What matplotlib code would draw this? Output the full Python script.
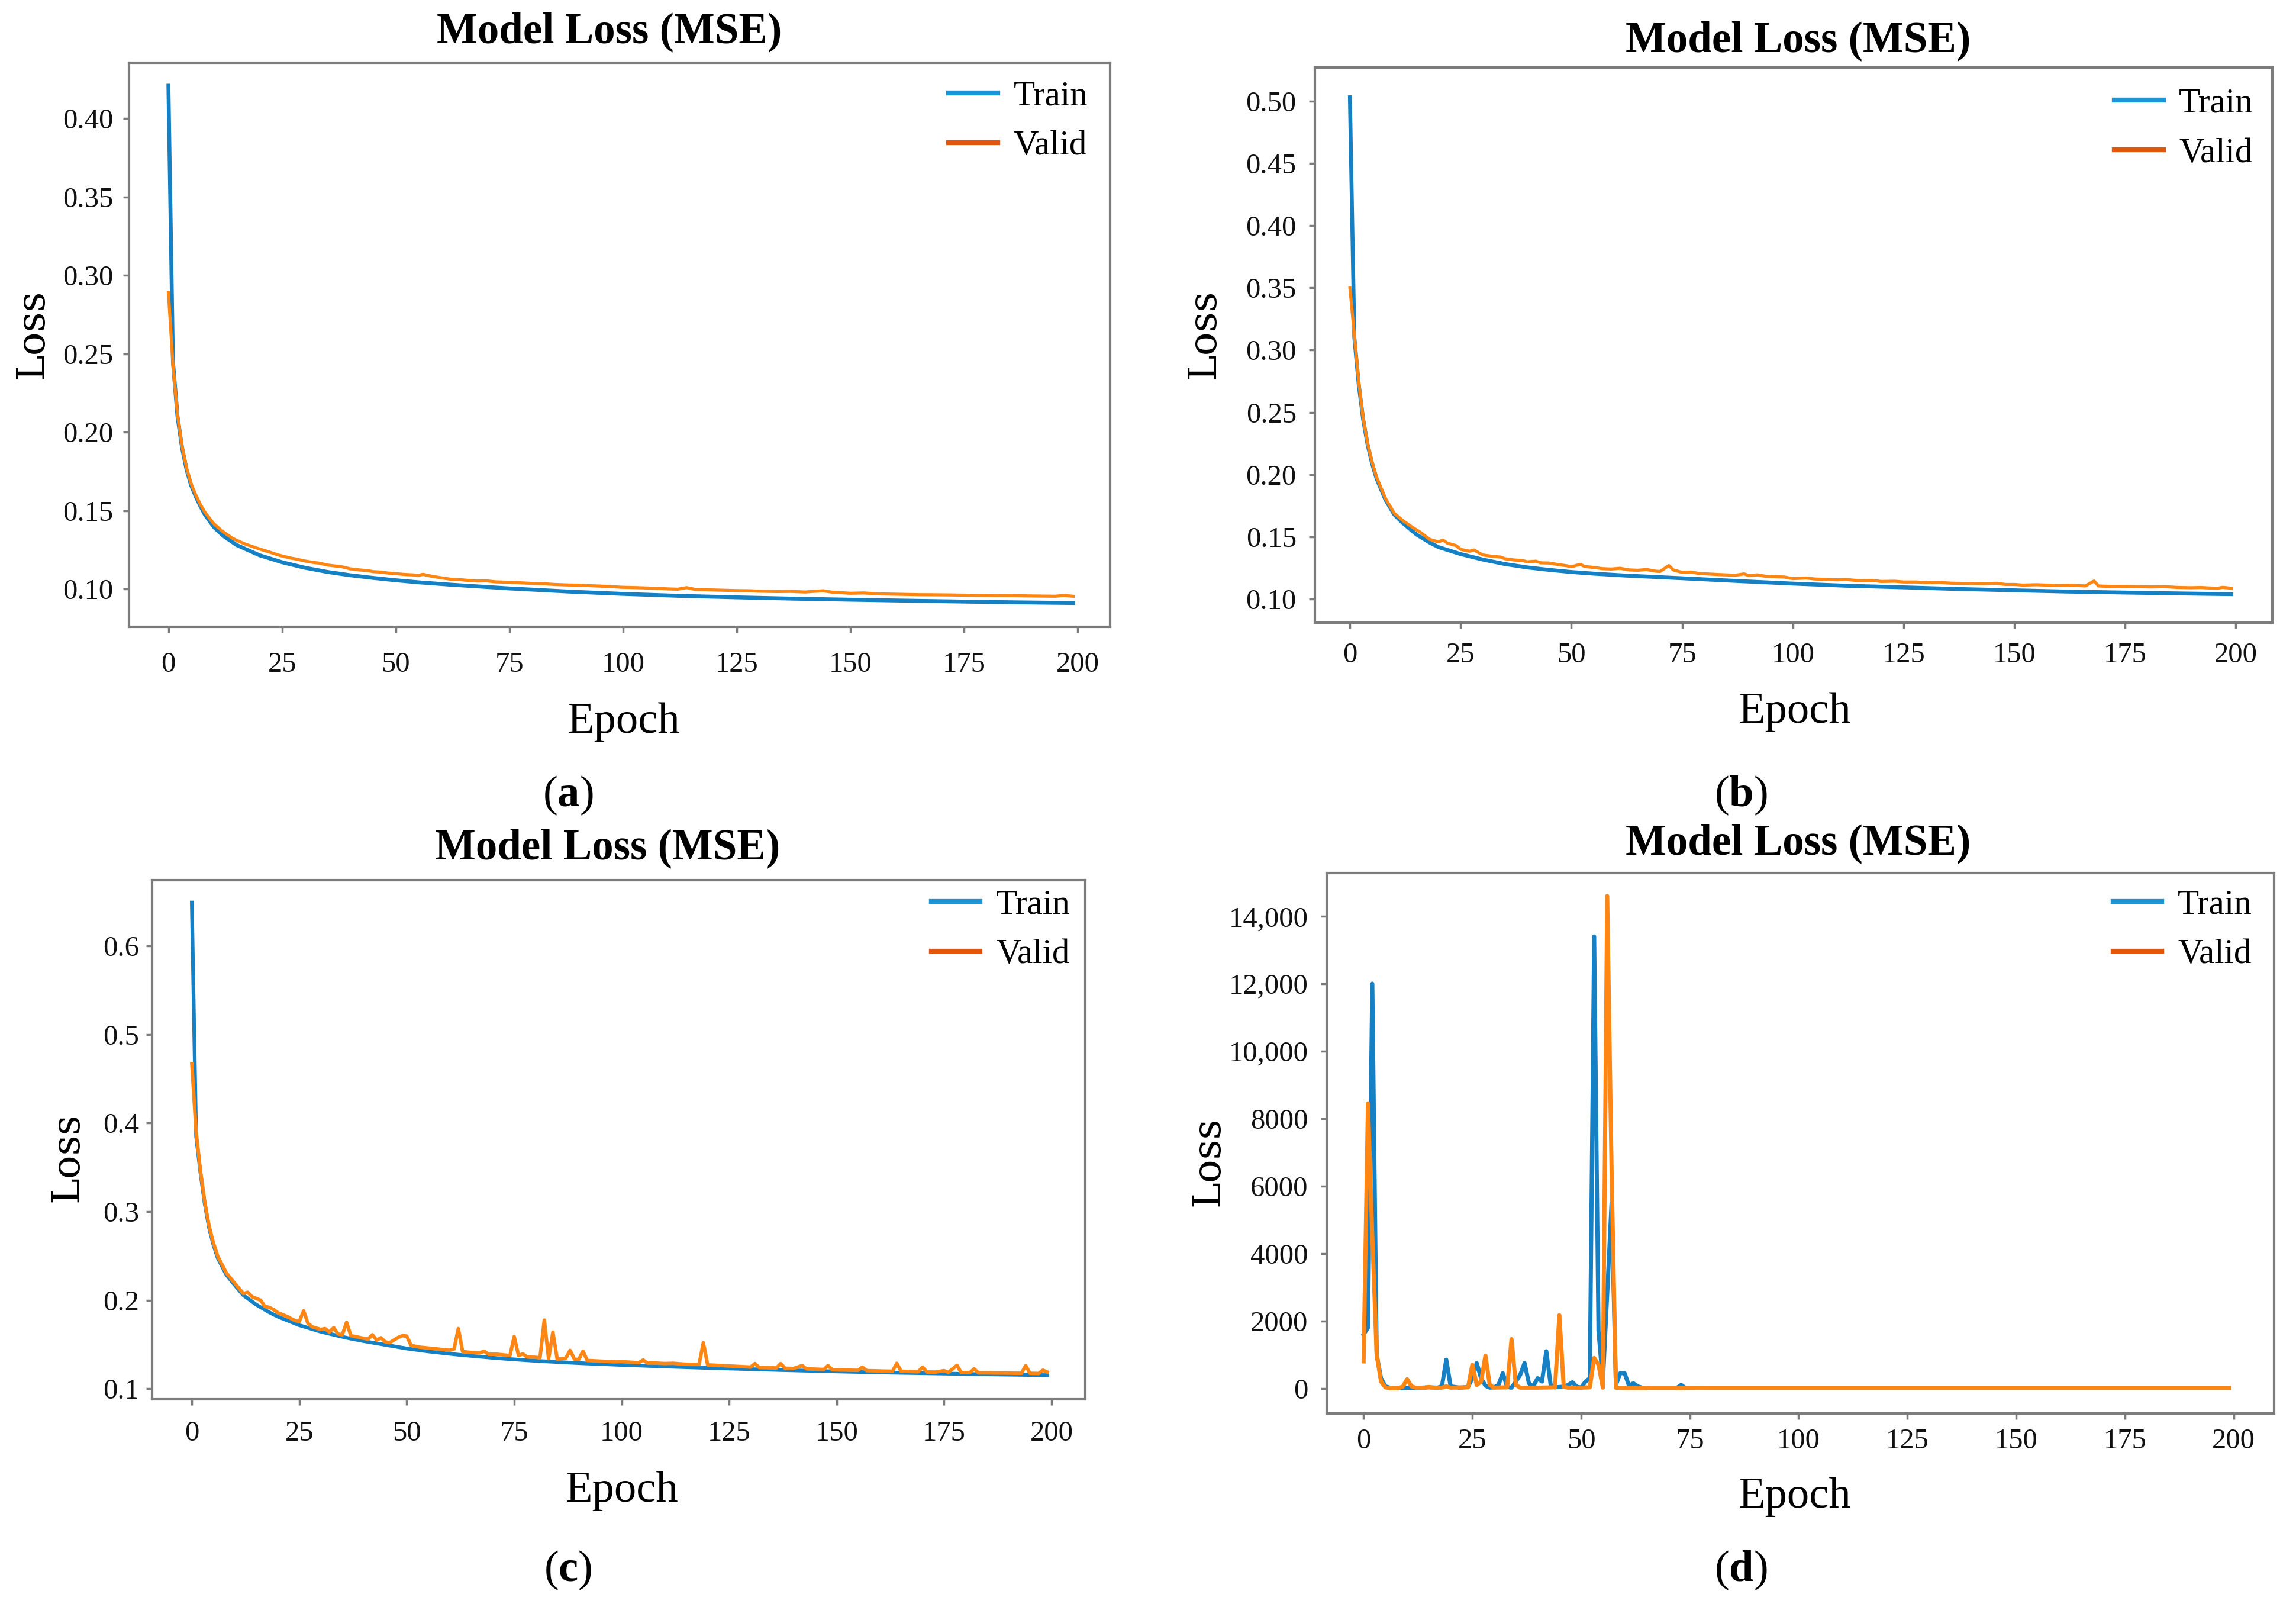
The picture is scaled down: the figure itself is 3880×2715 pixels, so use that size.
import matplotlib
matplotlib.use("Agg")
import matplotlib.pyplot as plt
from matplotlib.lines import Line2D
from matplotlib.ticker import FuncFormatter

plt.rcParams["font.family"] = ["Liberation Serif", "DejaVu Serif"]
plt.rcParams["mathtext.fontset"] = "custom"
plt.rcParams["mathtext.rm"] = "Liberation Serif"
plt.rcParams["mathtext.bf"] = "Liberation Serif:bold"

# ---- (a) ----
a_ep_train = [0, 1, 2, 3, 4, 5, 6, 7, 8, 10, 12, 15, 20, 25, 30, 35, 40, 45, 50, 55, 62, 75,
              88, 100, 112, 125, 137, 150, 162, 175, 187, 199]
a_train = [0.421, 0.245, 0.210, 0.190, 0.176, 0.166, 0.159, 0.153, 0.1475, 0.1395, 0.1340,
           0.1280, 0.1215, 0.1170, 0.1135, 0.1108, 0.1087, 0.1070, 0.1055, 0.1042, 0.1027,
           0.1003, 0.0983, 0.0968, 0.0956, 0.0946, 0.0938, 0.0931, 0.0925, 0.0919, 0.0914,
           0.0910]
a_ep_valid = [0, 1, 2, 3, 4, 5, 6, 7, 8, 10, 12, 14, 15, 17, 18, 20, 22, 24, 25, 27, 28, 30, 32,
              33, 35, 37, 38, 40, 42, 44, 45, 47, 48, 50, 52, 54, 55, 56, 58, 60, 62, 64, 66, 68,
              70, 72, 75, 78, 80, 83, 85, 88, 90, 93, 95, 100, 103, 106, 110, 112, 114, 116, 120,
              125, 128, 130, 134, 137, 140, 144, 146, 150, 153, 156, 160, 165, 170, 175, 180,
              185, 190, 195, 197, 199]
a_valid = [0.289, 0.243, 0.211, 0.191, 0.177, 0.167, 0.160, 0.154, 0.149, 0.1415, 0.1365,
           0.1325, 0.131, 0.1285, 0.1275, 0.1255, 0.1237, 0.1218, 0.1210, 0.1196, 0.1191,
           0.1178, 0.1168, 0.1165, 0.1152, 0.1145, 0.1142, 0.1128, 0.1121, 0.1116, 0.1110,
           0.1107, 0.1102, 0.1097, 0.1092, 0.1089, 0.1086, 0.1093, 0.108, 0.1071, 0.1062,
           0.1059, 0.1054, 0.105, 0.1051, 0.1045, 0.1042, 0.1038, 0.1035, 0.1032, 0.1028,
           0.1025, 0.1024, 0.102, 0.1018, 0.101, 0.1008, 0.1005, 0.1, 0.0998, 0.1008, 0.0996,
           0.0993, 0.0989, 0.0988, 0.0985, 0.0983, 0.0984, 0.098, 0.0988, 0.0979, 0.0972,
           0.0974, 0.0968, 0.0966, 0.0963, 0.0962, 0.096, 0.0958, 0.0957, 0.0955, 0.0953,
           0.0958, 0.0953]

# ---- (b) ----
b_ep_train = [0, 1, 2, 3, 4, 5, 6, 8, 10, 12, 15, 18, 20, 25, 30, 35, 40, 45, 50, 55, 62, 75,
              88, 100, 112, 125, 137, 150, 162, 175, 187, 199]
b_train = [0.503, 0.31, 0.272, 0.244, 0.224, 0.209, 0.197, 0.180, 0.168, 0.161, 0.152, 0.1455,
           0.1418, 0.1362, 0.1318, 0.1282, 0.1255, 0.1235, 0.1218, 0.1205, 0.1190, 0.1168,
           0.1145, 0.1125, 0.1108, 0.1095, 0.1082, 0.1071, 0.1061, 0.1053, 0.1046, 0.1040]
b_ep_valid = [0, 1, 2, 3, 4, 5, 6, 8, 10, 12, 14, 16, 18, 19, 20, 21, 22, 24, 25, 27, 28, 30,
              32, 34, 35, 37, 39, 40, 42, 43, 45, 47, 49, 50, 52, 53, 55, 57, 59, 61, 63, 65,
              67, 69, 70, 72, 73, 75, 77, 79, 81, 83, 85, 87, 89, 90, 92, 94, 96, 98, 100, 103,
              105, 108, 110, 112, 115, 118, 120, 123, 125, 128, 130, 133, 136, 140, 143, 146,
              148, 150, 152, 155, 158, 160, 163, 166, 168, 169, 172, 175, 178, 181, 184, 187,
              190, 192, 194, 196, 197, 199]
b_valid = [0.350, 0.312, 0.274, 0.245, 0.225, 0.210, 0.198, 0.181, 0.169, 0.163, 0.158, 0.1535,
           0.148, 0.147, 0.146, 0.1475, 0.145, 0.143, 0.140, 0.1385, 0.1395, 0.1355, 0.1345,
           0.1338, 0.1325, 0.1315, 0.131, 0.130, 0.1305, 0.1292, 0.129, 0.1278, 0.1268, 0.126,
           0.128, 0.1262, 0.1255, 0.1245, 0.1242, 0.1248, 0.1235, 0.1232, 0.1238, 0.1225,
           0.1222, 0.127, 0.1235, 0.1215, 0.1218, 0.1205, 0.1202, 0.1198, 0.1195, 0.1192,
           0.1203, 0.119, 0.1195, 0.1183, 0.118, 0.1178, 0.1165, 0.117, 0.1162, 0.1158,
           0.1155, 0.1158, 0.1148, 0.115, 0.1142, 0.1144, 0.1138, 0.1138, 0.1133, 0.1134,
           0.1128, 0.1126, 0.1124, 0.1128, 0.1118, 0.1118, 0.1113, 0.1116, 0.1112, 0.111,
           0.1112, 0.1106, 0.1146, 0.1106, 0.1102, 0.1102, 0.11, 0.1098, 0.11, 0.1094, 0.1092,
           0.1094, 0.109, 0.1088, 0.1095, 0.1088]

# ---- (c) ----
c_ep_train = [0, 1, 2, 3, 4, 5, 6, 8, 10, 12, 15, 18, 20, 25, 30, 36, 40, 50, 55, 62, 70, 75,
              80, 90, 100, 110, 120, 125, 137, 150, 162, 175, 187, 199]
c_train = [0.649, 0.385, 0.344, 0.309, 0.282, 0.263, 0.248, 0.229, 0.217, 0.2056, 0.195,
           0.1864, 0.1815, 0.1718, 0.1645, 0.1576, 0.1538, 0.1455, 0.1422, 0.1385, 0.1350,
           0.1332, 0.1316, 0.1290, 0.1270, 0.1252, 0.1236, 0.1229, 0.1212, 0.1196, 0.1183,
           0.1172, 0.1162, 0.1154]
c_ep_valid = [0, 1, 2, 3, 4, 5, 6, 8, 10, 12, 13, 14, 16, 17, 18, 19, 20, 22, 24, 25, 26, 27,
              28, 30, 31, 32, 33, 34, 35, 36, 37, 38, 40, 41, 42, 43, 44, 45, 46, 47, 48, 49,
              50, 51, 52, 53, 55, 57, 59, 60, 61, 62, 63, 65, 67, 68, 69, 71, 73, 74, 75, 76,
              77, 78, 80, 81, 82, 83, 84, 85, 86, 87, 88, 89, 90, 91, 92, 94, 96, 98, 100, 102,
              104, 105, 106, 108, 110, 112, 114, 116, 118, 119, 120, 122, 124, 126, 128, 130,
              131, 132, 134, 136, 137, 138, 140, 142, 143, 145, 147, 148, 149, 151, 153, 155,
              156, 157, 159, 161, 163, 164, 165, 167, 169, 170, 171, 173, 175, 176, 178, 179,
              181, 182, 183, 185, 187, 189, 191, 193, 194, 195, 197, 198, 199]
c_valid = [0.467, 0.39, 0.346, 0.311, 0.284, 0.265, 0.250, 0.231, 0.219, 0.2075, 0.209, 0.204,
           0.200, 0.193, 0.192, 0.1895, 0.186, 0.182, 0.177, 0.176, 0.188, 0.174, 0.170, 0.167,
           0.168, 0.164, 0.169, 0.162, 0.161, 0.175, 0.160, 0.159, 0.157, 0.156, 0.161, 0.155,
           0.1576, 0.153, 0.152, 0.155, 0.158, 0.160, 0.1595, 0.149, 0.148, 0.147, 0.146,
           0.145, 0.144, 0.1435, 0.145, 0.168, 0.142, 0.141, 0.1405, 0.1425, 0.139, 0.139,
           0.138, 0.1375, 0.159, 0.1375, 0.1395, 0.136, 0.1355, 0.135, 0.1776, 0.134, 0.164,
           0.1335, 0.134, 0.1345, 0.1434, 0.1335, 0.133, 0.1425, 0.132, 0.1315, 0.131, 0.1305,
           0.1307, 0.130, 0.1295, 0.1325, 0.129, 0.129, 0.1285, 0.1288, 0.128, 0.1275, 0.1275,
           0.152, 0.127, 0.1265, 0.126, 0.1255, 0.125, 0.1245, 0.1285, 0.124, 0.1238, 0.1235,
           0.1285, 0.1232, 0.123, 0.1262, 0.1225, 0.1222, 0.1218, 0.1262, 0.1215, 0.1212,
           0.121, 0.1208, 0.1245, 0.1205, 0.1203, 0.12, 0.1198, 0.1288, 0.1198, 0.1195, 0.1192,
           0.1245, 0.119, 0.1188, 0.1205, 0.1185, 0.1265, 0.1183, 0.1182, 0.1225, 0.118, 0.118,
           0.1178, 0.1178, 0.1176, 0.1175, 0.1262, 0.1175, 0.1173, 0.121, 0.119]

# ---- (d) ----
d_ep_train = [0, 1, 2, 3, 4, 5, 6, 8, 9, 10, 12, 15, 17, 18, 19, 20, 22, 24, 25, 26, 27, 28,
              29, 30, 31, 32, 33, 34, 35, 36, 37, 38, 39, 40, 41, 42, 43, 44, 46, 47, 48, 49,
              50, 51, 52, 53, 54, 55, 56, 57, 58, 59, 60, 61, 62, 63, 64, 66, 72, 73, 74, 80,
              199]
d_train = [1600, 1800, 12000, 1000, 300, 60, 20, 10, 5, 20, 10, 30, 20, 60, 850, 60, 20, 40,
           300, 750, 300, 80, 20, 30, 100, 450, 40, 20, 200, 400, 750, 150, 60, 300, 200, 1100,
           100, 30, 50, 100, 180, 50, 20, 200, 300, 13400, 1700, 200, 2800, 5500, 100, 450,
           450, 80, 150, 60, 20, 10, 10, 100, 10, 5, 5]
d_ep_valid = [0, 1, 2, 3, 4, 5, 6, 8, 9, 10, 11, 12, 14, 15, 16, 18, 19, 20, 24, 25, 26, 27,
              28, 29, 30, 33, 34, 35, 36, 40, 44, 45, 46, 47, 50, 52, 53, 54, 55, 56, 57, 58,
              60, 199]
d_valid = [800, 8450, 4500, 1000, 200, 30, 5, 5, 50, 270, 60, 20, 20, 40, 20, 20, 60, 20, 30,
           700, 100, 200, 970, 100, 20, 30, 1460, 100, 20, 20, 30, 2170, 50, 20, 20, 30, 900,
           700, 20, 14600, 6500, 20, 10, 10]

x_ticks = [0, 25, 50, 75, 100, 125, 150, 175, 200]

W, H = 1568.0, 1097.0
BLUE = "#1580c3"
ORANGE = "#ff8612"
LEG_BLUE = "#1b95d6"
LEG_ORANGE = "#e2570e"
SPINE = "#7c7c7c"

fig = plt.figure(figsize=(15.52, 10.86), dpi=250)


def panel(box, xlim, ylim, yticks, yfmt, xpad, ypad):
    left, top, right, bottom = box
    ax = fig.add_axes([left / W, 1 - bottom / H, (right - left) / W, (bottom - top) / H])
    ax.set_xlim(*xlim)
    ax.set_ylim(*ylim)
    ax.set_xticks(x_ticks)
    ax.set_yticks(yticks)
    ax.yaxis.set_major_formatter(FuncFormatter(yfmt))
    for s in ax.spines.values():
        s.set_color(SPINE)
        s.set_linewidth(1.2)
    ax.tick_params(axis="both", colors=SPINE, labelcolor="#111111", labelsize=14,
                   length=3, width=1.0, direction="out")
    ax.tick_params(axis="x", pad=xpad)
    ax.tick_params(axis="y", pad=ypad)
    return ax


def labels(ax, title_xy, epoch_xy, tag_xy, loss_xy, tag, leg_xy):
    fig.text(title_xy[0] / W, 1 - title_xy[1] / H, "Model Loss (MSE)", fontsize=21,
             fontweight="bold", ha="center", va="center")
    fig.text(epoch_xy[0] / W, 1 - epoch_xy[1] / H, "Epoch", fontsize=21.5,
             ha="center", va="center")
    fig.text(tag_xy[0] / W, 1 - tag_xy[1] / H, "($\\mathbf{%s}$)" % tag, fontsize=21.5,
             ha="center", va="center")
    fig.text(loss_xy[0] / W, 1 - loss_xy[1] / H, "Loss", fontsize=19, rotation=90,
             family="DejaVu Serif", ha="center", va="center")
    handles = [Line2D([], [], color=LEG_BLUE, lw=2.4), Line2D([], [], color=LEG_ORANGE, lw=2.4)]
    ax.legend(handles, ["Train", "Valid"], loc="upper left",
              bbox_to_anchor=(leg_xy[0] / W, 1 - leg_xy[1] / H),
              bbox_transform=fig.transFigure, frameon=False, fontsize=17,
              handlelength=1.4, handletextpad=0.45, labelspacing=0.5,
              borderpad=0, borderaxespad=0)


f2 = lambda v, p: "%.2f" % v
f1 = lambda v, p: "%.1f" % v
fk = lambda v, p: ("{:,}".format(int(v)) if v >= 10000 else "%d" % v)

ax_a = panel((88, 43, 758, 428), (-8.7, 207.1), (0.0757, 0.4355),
             [0.10, 0.15, 0.20, 0.25, 0.30, 0.35, 0.40], f2, 9, 4.5)
ax_a.plot(a_ep_train, a_train, color=BLUE, lw=1.9)
ax_a.plot(a_ep_valid, a_valid, color=ORANGE, lw=1.5)
labels(ax_a, (416, 22), (426, 493), (388, 543), (22, 228), "a", (648, 55))

ax_b = panel((898, 46, 1552, 425), (-7.9, 208.3), (0.0812, 0.527),
             [0.10, 0.15, 0.20, 0.25, 0.30, 0.35, 0.40, 0.45, 0.50], f2, 6.5, 6)
ax_b.plot(b_ep_train, b_train, color=BLUE, lw=1.9)
ax_b.plot(b_ep_valid, b_valid, color=ORANGE, lw=1.5)
labels(ax_b, (1228, 28), (1226, 486), (1189, 543), (822, 228), "b", (1444, 60))

ax_c = panel((104, 601, 741, 955), (-9.2, 207.8), (0.0885, 0.674),
             [0.1, 0.2, 0.3, 0.4, 0.5, 0.6], f1, 7.5, 3.5)
ax_c.plot(c_ep_train, c_train, color=BLUE, lw=1.8)
ax_c.plot(c_ep_valid, c_valid, color=ORANGE, lw=1.7)
labels(ax_c, (415, 579), (425, 1018), (388, 1072), (46, 790), "c", (636, 607))

ax_d = panel((906, 596, 1553, 965), (-8.5, 209.3), (-750, 15280),
             [0, 2000, 4000, 6000, 8000, 10000, 12000, 14000], fk, 4, 6)
ax_d.plot(d_ep_train, d_train, color=BLUE, lw=2.0)
ax_d.plot(d_ep_valid, d_valid, color=ORANGE, lw=2.0)
labels(ax_d, (1228, 576), (1226, 1022), (1189, 1072), (825, 793), "d", (1443, 607))

fig.savefig("out.png", dpi=250, facecolor="white")
